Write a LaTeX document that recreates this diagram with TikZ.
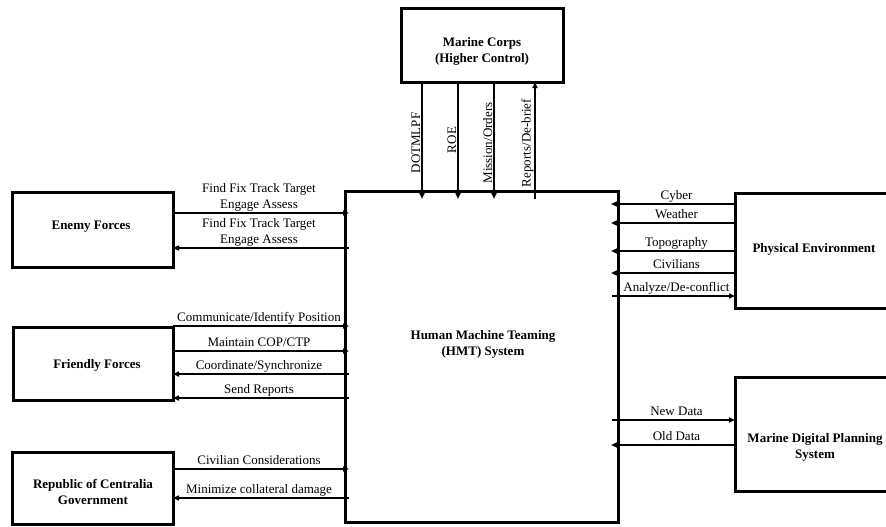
\documentclass[tikz,border=0pt]{standalone}
\usepackage{fontspec}
\setmainfont{Liberation Serif}
\usetikzlibrary{arrows.meta}
\begin{document}
\begin{tikzpicture}[x=1pt,y=-1pt,
  every node/.style={font=\fontsize{13}{16}\selectfont},
  sysbox/.style={draw, line width=3pt, inner sep=0pt, outer sep=0pt},
  boxtext/.style={font=\fontsize{13}{16}\selectfont\bfseries, align=center, inner sep=0pt},
  arr/.style={line width=2pt, -{Triangle[length=6pt,width=5pt]}},
  lbl/.style={above, inner sep=1pt, text depth=3pt},
  lbltwo/.style={above, inner sep=1pt, align=center},
  vlbl/.style={rotate=90, anchor=south, inner sep=1.5pt}]

\path[use as bounding box, clip] (0,0) rectangle (886,527);

% blocks
\node[sysbox, minimum width=162, minimum height=73]  (mc)       at (482,45.5)    {};
\node[sysbox, minimum width=273, minimum height=331] (hmt)      at (481.5,356.5) {};
\node[sysbox, minimum width=161, minimum height=75]  (enemy)    at (92.5,229.5)  {};
\node[sysbox, minimum width=160, minimum height=73]  (friendly) at (93,363.5)    {};
\node[sysbox, minimum width=161, minimum height=72.5] (republic) at (92.5,488.25) {};
\node[sysbox, minimum width=160, minimum height=115] (phys)     at (815,250.5)   {};
\node[sysbox, minimum width=160, minimum height=114] (mdps)     at (815,434)     {};

% block titles
\node[boxtext] (mcT)       at (482,51)  {Marine Corps\\(Higher Control)};
\node[boxtext] (hmtT)      at (483,344) {Human Machine Teaming\\(HMT) System};
\node[boxtext] (enemyT)    at (91,227)  {Enemy Forces};
\node[boxtext] (friendlyT) at (97,365)  {Friendly Forces};
\node[boxtext] (republicT) at (93,492)  {Republic of Centralia\\Government};
\node[boxtext] (physT)     at (814,249) {Physical Environment};
\node[boxtext] (mdpsT)     at (815,447) {Marine Digital Planning\\System};

% columns of the control arrows
\coordinate (xa) at (422,0);
\coordinate (xb) at (458,0);
\coordinate (xc) at (494,0);
\coordinate (xd) at (535,0);

% rows of the side arrows
\coordinate (e1) at (0,213);
\coordinate (e2) at (0,248);
\coordinate (f1) at (0,326);
\coordinate (f2) at (0,351);
\coordinate (f3) at (0,374);
\coordinate (f4) at (0,398);
\coordinate (r1) at (0,469);
\coordinate (r2) at (0,498);
\coordinate (p1) at (0,204);
\coordinate (p2) at (0,223);
\coordinate (p3) at (0,251);
\coordinate (p4) at (0,273);
\coordinate (p5) at (0,296);
\coordinate (m1) at (0,420);
\coordinate (m2) at (0,445);

% higher control
\draw[arr, shorten >=-8pt] (xa |- mc.south) -- (xa |- hmt.north);
\draw[arr, shorten >=-8pt] (xb |- mc.south) -- (xb |- hmt.north);
\draw[arr, shorten >=-8pt] (xc |- mc.south) -- (xc |- hmt.north);
\draw[arr, shorten <=-8pt] (xd |- hmt.north) -- (xd |- mc.south);
\node[vlbl] (la) at (422,143) {DOTMLPF};
\node[vlbl] (lb) at (458,140) {ROE};
\node[vlbl] (lc) at (494,143) {Mission/Orders};
\node[vlbl] (ld) at (535,143) {Reports/De-brief};

% enemy forces
\draw[arr, shorten >=-4pt] (enemy.east |- e1) -- (hmt.west |- e1)
  node[lbltwo, midway] {Find Fix Track Target\\Engage Assess};
\draw[arr, shorten <=-4pt] (hmt.west |- e2) -- (enemy.east |- e2)
  node[lbltwo, midway] {Find Fix Track Target\\Engage Assess};

% friendly forces
\draw[arr, shorten >=-4pt] (friendly.east |- f1) -- (hmt.west |- f1)
  node[lbl, midway] {Communicate/Identify Position};
\draw[arr, shorten >=-4pt] (friendly.east |- f2) -- (hmt.west |- f2)
  node[lbl, midway] {Maintain COP/CTP};
\draw[arr, shorten <=-4pt] (hmt.west |- f3) -- (friendly.east |- f3)
  node[lbl, midway] {Coordinate/Synchronize};
\draw[arr, shorten <=-4pt] (hmt.west |- f4) -- (friendly.east |- f4)
  node[lbl, midway] {Send Reports};

% government
\draw[arr, shorten >=-4pt] (republic.east |- r1) -- (hmt.west |- r1)
  node[lbl, midway] {Civilian Considerations};
\draw[arr, shorten <=-4pt] (hmt.west |- r2) -- (republic.east |- r2)
  node[lbl, midway] {Minimize collateral damage};

% physical environment
\draw[arr, shorten >=-7pt] (phys.west |- p1) -- (hmt.east |- p1)
  node[lbl, midway] {Cyber};
\draw[arr, shorten >=-7pt] (phys.west |- p2) -- (hmt.east |- p2)
  node[lbl, midway] {Weather};
\draw[arr, shorten >=-7pt] (phys.west |- p3) -- (hmt.east |- p3)
  node[lbl, midway] {Topography};
\draw[arr, shorten >=-7pt] (phys.west |- p4) -- (hmt.east |- p4)
  node[lbl, midway] {Civilians};
\draw[arr, shorten <=-6pt] (hmt.east |- p5) -- (phys.west |- p5)
  node[lbl, midway] {Analyze/De-conflict};

% digital planning system
\draw[arr, shorten <=-6pt] (hmt.east |- m1) -- (mdps.west |- m1)
  node[lbl, midway] {New Data};
\draw[arr, shorten >=-7pt] (mdps.west |- m2) -- (hmt.east |- m2)
  node[lbl, midway] {Old Data};
\end{tikzpicture}
\end{document}
